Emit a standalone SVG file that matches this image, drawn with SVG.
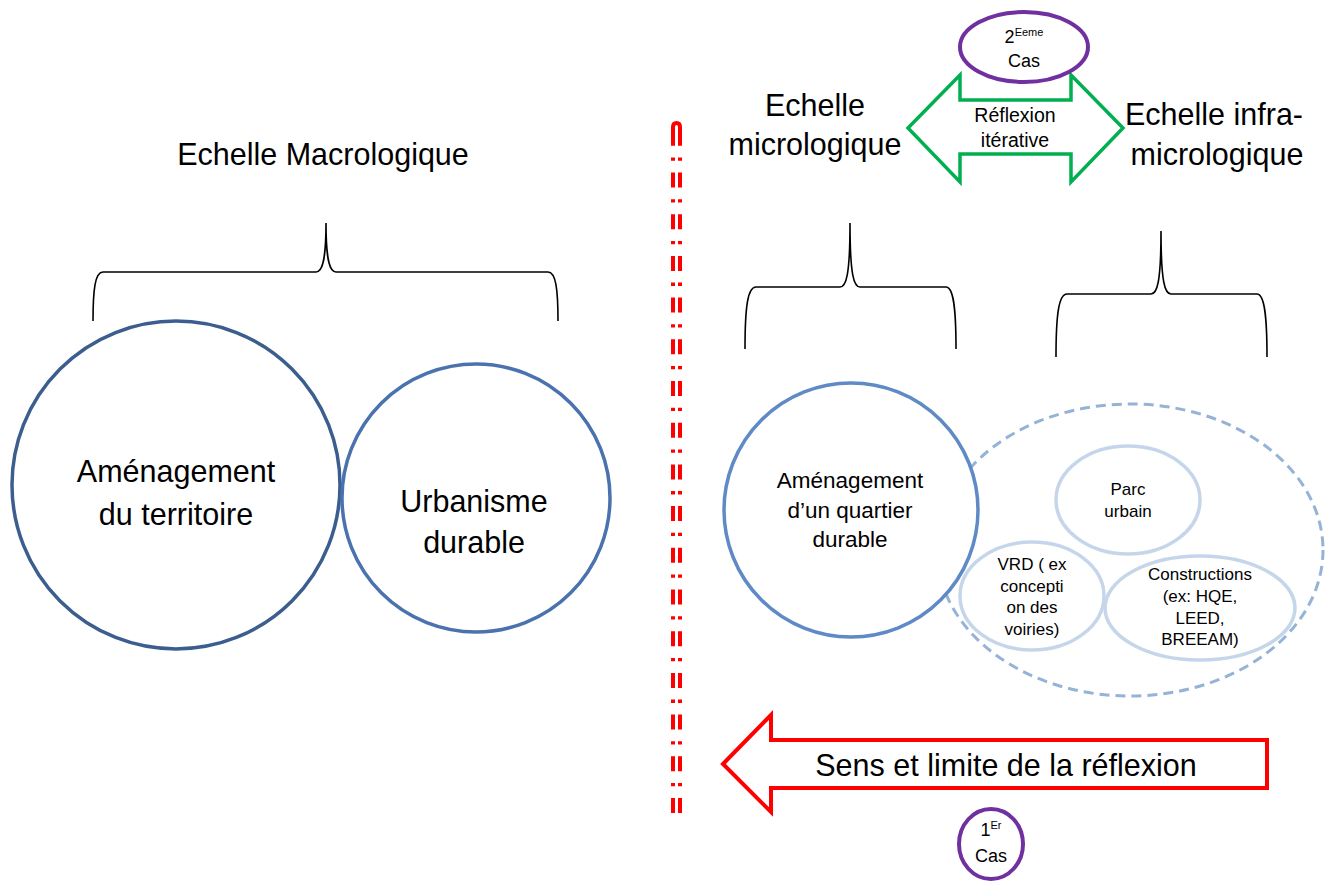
<svg xmlns="http://www.w3.org/2000/svg" width="1325" height="881" viewBox="0 0 1325 881">
<style>
text{font-family:"Liberation Sans",Arial,sans-serif;fill:#000;text-anchor:middle}
.big{font-size:30.5px}
.mid{font-size:22.5px}
.sm{font-size:17px}
.refl{font-size:19.5px}
.cas{font-size:18px}
.sup{font-size:11px}
.brace{fill:none;stroke:#000;stroke-width:1.6}
.purple{fill:#fff;stroke:#7030a0;stroke-width:4}
.inner{fill:#fff;stroke:#c6d6ea;stroke-width:3.5}
.reddash{fill:none;stroke:#ff0000;stroke-width:4;stroke-dasharray:15 11.7 3.3 11.7}
</style>

<g id="title-macro"><text class="big" x="323" y="165">Echelle Macrologique</text></g>
<g id="title-micro"><text class="big" x="815" y="116">Echelle</text><text class="big" x="815" y="155">micrologique</text></g>
<g id="title-infra"><text class="big" x="1214" y="125">Echelle infra-</text><text class="big" x="1217" y="165">micrologique</text></g>

<g id="connectors">
<path class="brace" d="M93,321 C93,290 95,272 103,272 L316,272 C322,272 326,262 326,223 C326,262 330,272 336,272 L548,272 C556,272 558,290 558,321"/>
<path class="brace" d="M745,349 C745,305 748,287 756,287 L840,287 C846,287 850,276 850,223 C850,276 854,287 860,287 L946,287 C953,287 956,305 956,349"/>
<path class="brace" d="M1056,357 C1056,313 1059,294 1067,294 L1151,294 C1157,294 1161,283 1161,231 C1161,283 1165,294 1171,294 L1257,294 C1264,294 1267,313 1267,357"/>
<path class="reddash" d="M673,813 V127"/>
<path class="reddash" d="M680,813 V125"/>
<path fill="none" stroke="#ff0000" stroke-width="4" d="M673,135 V127 Q673,123 676.5,123 Q680,123 680,127 V135"/>
</g>

<g id="arrow-iterative">
<path fill="#fff" stroke="#00b050" stroke-width="3.5" stroke-linejoin="miter" d="M908,128 L960,75 L960,100 L1071,100 L1071,75 L1123,128 L1071,182 L1071,154 L960,154 L960,182 Z"/>
<text class="refl" x="1015" y="122">Réflexion</text>
<text class="refl" x="1015" y="147">itérative</text>
</g>

<g id="cas2">
<ellipse class="purple" cx="1024" cy="47" rx="64" ry="35"/>
<text class="cas" x="1024" y="43">2<tspan class="sup" dy="-7">Eeme</tspan></text>
<text class="cas" x="1024" y="67">Cas</text>
</g>

<g id="amenagement-territoire">
<circle cx="176" cy="485" r="164" fill="#fff" stroke="#3b5e8f" stroke-width="3.5"/>
<text class="big" x="176" y="482">Aménagement</text>
<text class="big" x="176" y="525">du territoire</text>
</g>

<g id="urbanisme-durable">
<circle cx="476" cy="498" r="134" fill="#fff" stroke="#4a72ae" stroke-width="3.5"/>
<text class="big" x="474" y="512">Urbanisme</text>
<text class="big" x="474" y="553">durable</text>
</g>

<g id="groupe-infra">
<ellipse cx="1130" cy="550" rx="193" ry="146" fill="none" stroke="#95b3d7" stroke-width="3" stroke-dasharray="10 6"/>
</g>

<g id="parc-urbain">
<ellipse class="inner" cx="1128" cy="500" rx="72" ry="54"/>
<text class="sm" x="1128" y="495">Parc</text>
<text class="sm" x="1128" y="517">urbain</text>
</g>

<g id="vrd">
<ellipse class="inner" cx="1032" cy="596" rx="72" ry="54"/>
<text class="sm" x="1032" y="570">VRD ( ex</text>
<text class="sm" x="1032" y="592">concepti</text>
<text class="sm" x="1032" y="613">on des</text>
<text class="sm" x="1032" y="635">voiries)</text>
</g>

<g id="constructions">
<ellipse class="inner" cx="1200" cy="608" rx="95" ry="52"/>
<text class="sm" x="1200" y="580">Constructions</text>
<text class="sm" x="1200" y="602">(ex: HQE,</text>
<text class="sm" x="1200" y="624">LEED,</text>
<text class="sm" x="1200" y="645">BREEAM)</text>
</g>

<g id="amenagement-quartier">
<circle cx="851" cy="510" r="127" fill="#fff" stroke="#5f8ac6" stroke-width="3.5"/>
<text class="mid" x="850" y="488">Aménagement</text>
<text class="mid" x="850" y="518">d’un quartier</text>
<text class="mid" x="850" y="547">durable</text>
</g>

<g id="arrow-sens">
<path fill="#fff" stroke="#ff0000" stroke-width="4" d="M723,764 L771,715 L771,740 L1267,740 L1267,788 L771,788 L771,812 Z"/>
<text class="big" x="1006" y="776">Sens et limite de la réflexion</text>
</g>

<g id="cas1">
<ellipse class="purple" cx="991" cy="844" rx="32" ry="35"/>
<text class="cas" x="991" y="836">1<tspan class="sup" dy="-7">Er</tspan></text>
<text class="cas" x="991" y="862">Cas</text>
</g>
</svg>
